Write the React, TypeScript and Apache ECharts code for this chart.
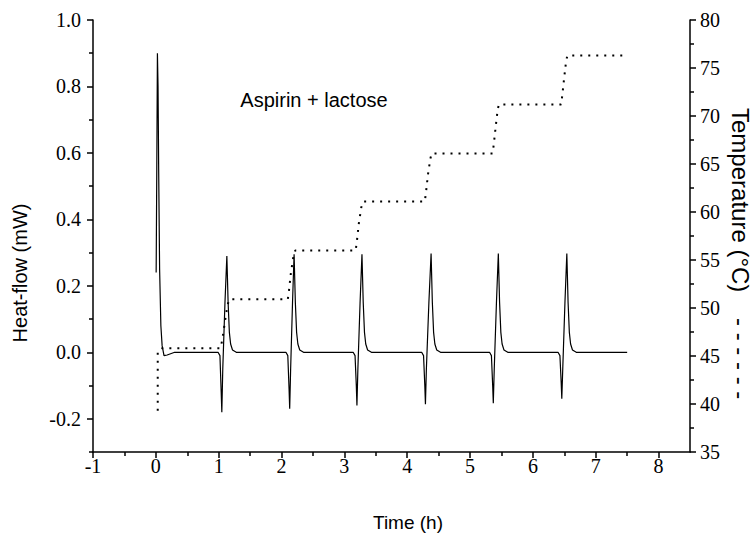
import React, { useEffect, useRef } from "react";
import * as echarts from "echarts";

// Heat-flow (mW) vs time (h)
const hfTime = [
  0.005, 0.015, 0.025, 0.035, 0.045, 0.06, 0.08, 0.1, 0.13, 0.18, 0.3,
  0.99, 1.02, 1.04, 1.05, 1.065, 1.1, 1.13, 1.15, 1.17, 1.19, 1.22, 1.28,
  2.07, 2.1, 2.12, 2.13, 2.145, 2.175, 2.2, 2.22, 2.24, 2.26, 2.29, 2.35,
  3.14, 3.17, 3.19, 3.2, 3.215, 3.25, 3.28, 3.3, 3.32, 3.34, 3.37, 3.43,
  4.23, 4.26, 4.28, 4.29, 4.305, 4.345, 4.38, 4.4, 4.42, 4.44, 4.47, 4.53,
  5.31, 5.34, 5.36, 5.37, 5.385, 5.42, 5.45, 5.47, 5.49, 5.51, 5.54, 5.6,
  6.4, 6.43, 6.45, 6.46, 6.475, 6.51, 6.54, 6.56, 6.58, 6.6, 6.63, 6.69,
  7.5,
];
const hfValue = [
  0.24, 0.55, 0.9, 0.8, 0.55, 0.25, 0.08, 0.02, -0.01, -0.008, 0.0,
  0.0, -0.01, -0.12, -0.18, -0.05, 0.15, 0.29, 0.15, 0.06, 0.025, 0.007, 0.0,
  0.0, -0.01, -0.11, -0.17, -0.05, 0.15, 0.295, 0.15, 0.06, 0.025, 0.007, 0.0,
  0.0, -0.01, -0.1, -0.16, -0.05, 0.15, 0.295, 0.15, 0.06, 0.025, 0.007, 0.0,
  0.0, -0.01, -0.1, -0.156, -0.05, 0.15, 0.297, 0.15, 0.06, 0.025, 0.007, 0.0,
  0.0, -0.01, -0.1, -0.153, -0.05, 0.15, 0.297, 0.15, 0.06, 0.025, 0.007, 0.0,
  0.0, -0.01, -0.09, -0.14, -0.05, 0.15, 0.297, 0.15, 0.06, 0.025, 0.007, 0.0,
  0.0,
];

// Temperature (°C) vs time (h)
const tTime = [
  0.03, 0.03, 0.1,
  1.03, 1.06, 1.1, 1.14, 1.17,
  2.1, 2.12, 2.15, 2.19, 2.22,
  3.18, 3.2, 3.23, 3.27, 3.3,
  4.28, 4.3, 4.33, 4.37, 4.39,
  5.36, 5.38, 5.41, 5.44, 5.46,
  6.45, 6.47, 6.5, 6.53, 6.55,
  7.5,
];
const tValue = [
  39.3, 45.5, 45.8,
  45.8, 46.8, 48.6, 50.3, 50.9,
  50.9, 51.9, 53.7, 55.4, 56.0,
  56.0, 57.0, 58.8, 60.5, 61.1,
  61.1, 62.1, 63.9, 65.6, 66.1,
  66.1, 67.2, 69.0, 70.7, 71.2,
  71.2, 72.3, 74.1, 75.8, 76.3,
  76.3,
];

const xMajor = [-1, 0, 1, 2, 3, 4, 5, 6, 7, 8];
const xMinor = [-0.5, 0.5, 1.5, 2.5, 3.5, 4.5, 5.5, 6.5, 7.5];
const hfMajor = [-0.2, 0, 0.2, 0.4, 0.6, 0.8, 1.0];
const hfMinor = [-0.3, -0.1, 0.1, 0.3, 0.5, 0.7, 0.9];

const SERIF = "'Liberation Serif', 'Times New Roman', serif";
const SANS = "'Liberation Sans', Arial, sans-serif";

export default function App() {
  const ref = useRef<HTMLDivElement>(null);
  useEffect(() => {
    if (!ref.current) return;
    const chart = echarts.init(ref.current, undefined, { renderer: "svg" });
    const axisLine = { show: true, onZero: false, lineStyle: { color: "#000", width: 1.5 } };
    const noLine = { show: false, onZero: false };
    const tickStyle = { color: "#000", width: 1.5 };
    const labelStyle = { color: "#000", fontFamily: SERIF, fontSize: 20 };
    chart.setOption({
      animation: false,
      backgroundColor: "#fff",
      grid: { left: 93, right: 65, top: 20, bottom: 84 },
      xAxis: [
        {
          type: "value", min: -1, max: 8.5, position: "bottom",
          axisLine,
          axisTick: { show: true, customValues: xMajor, length: 6, lineStyle: tickStyle },
          axisLabel: { customValues: xMajor, margin: 4, ...labelStyle },
          splitLine: { show: false },
        },
        {
          type: "value", min: -1, max: 8.5, position: "bottom",
          axisLine: noLine,
          axisTick: { show: true, customValues: xMinor, length: 4, lineStyle: tickStyle },
          axisLabel: { show: false },
          splitLine: { show: false },
        },
      ],
      yAxis: [
        {
          type: "value", min: -0.3, max: 1.0, position: "left",
          axisLine,
          axisTick: { show: true, customValues: hfMajor, length: 6, lineStyle: tickStyle },
          axisLabel: { customValues: hfMajor, margin: 12, formatter: (v: number) => v.toFixed(1), ...labelStyle },
          splitLine: { show: false },
        },
        {
          type: "value", min: -0.3, max: 1.0, position: "left",
          axisLine: noLine,
          axisTick: { show: true, customValues: hfMinor, length: 4, lineStyle: tickStyle },
          axisLabel: { show: false },
          splitLine: { show: false },
        },
        {
          type: "value", min: 35, max: 80, interval: 5, position: "right",
          axisLine,
          axisTick: { show: true, length: 6, lineStyle: tickStyle },
          minorTick: { show: true, splitNumber: 2, length: 4, lineStyle: tickStyle },
          axisLabel: { margin: 10, ...labelStyle },
          splitLine: { show: false },
        },
      ],
      graphic: [
        {
          type: "text", x: 20, y: 273, rotation: Math.PI / 2,
          style: { text: "Heat-flow (mW)", fontFamily: SANS, fontSize: 20, fill: "#000", align: "center", verticalAlign: "middle" },
        },
        {
          type: "text", x: 740, y: 108, rotation: -Math.PI / 2,
          style: { text: "Temperature (°C)", fontFamily: SANS, fontSize: 24, fill: "#000", align: "left", verticalAlign: "middle" },
        },
        {
          type: "text", x: 740, y: 318, rotation: -Math.PI / 2,
          style: { text: "- - - - - -", fontFamily: SANS, fontSize: 24, fill: "#000", align: "left", verticalAlign: "middle" },
        },
        {
          type: "text", x: 408, y: 522,
          style: { text: "Time (h)", fontFamily: SANS, fontSize: 19, fill: "#000", align: "center", verticalAlign: "middle" },
        },
        {
          type: "text", x: 314, y: 100,
          style: { text: "Aspirin + lactose", fontFamily: SANS, fontSize: 20, fill: "#000", align: "center", verticalAlign: "middle" },
        },
      ],
      series: [
        {
          type: "line", name: "Heat-flow", xAxisIndex: 0, yAxisIndex: 0,
          data: hfTime.map((t, i) => [t, hfValue[i]]),
          showSymbol: false, symbol: "none",
          lineStyle: { color: "#000", width: 1.2 },
        },
        {
          type: "line", name: "Temperature", xAxisIndex: 0, yAxisIndex: 2,
          data: tTime.map((t, i) => [t, tValue[i]]),
          showSymbol: false, symbol: "none",
          lineStyle: { color: "#000", width: 2, type: [2, 6] },
        },
      ],
    });
    return () => chart.dispose();
  }, []);
  return <div ref={ref} style={{ width: 755, height: 536, position: "absolute", left: 0, top: 0 }} />;
}
